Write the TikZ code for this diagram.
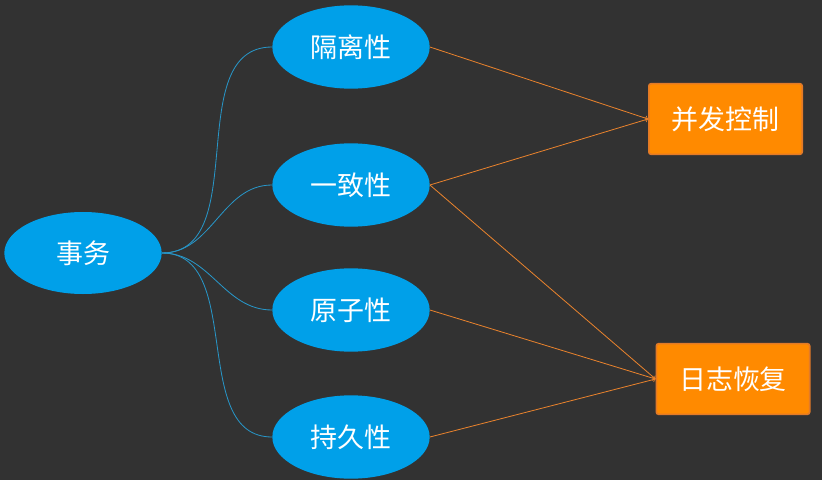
\documentclass[tikz,border=0pt]{standalone}
\usepackage{fontspec}
\usetikzlibrary{shapes.geometric}
\newfontfamily\cjk{Noto Sans CJK SC}
\definecolor{bgdark}{RGB}{50,50,50}
\definecolor{propblue}{RGB}{0,160,233}
\definecolor{linkblue}{RGB}{40,150,200}
\definecolor{techorange}{RGB}{255,138,0}
\definecolor{techedge}{RGB}{226,122,40}
\definecolor{arrorange}{RGB}{232,130,45}
\begin{document}
\begin{tikzpicture}[x=0.03cm, y=-0.03cm,
  prop/.style={ellipse, fill=propblue, text=white, minimum width=4.72cm, minimum height=2.5cm, font=\cjk\fontsize{23}{26}\selectfont},
  tech/.style={draw=techedge, line width=1.4pt, fill=techorange, rounded corners=2pt, text=white, minimum width=4.6cm, minimum height=2.12cm, font=\cjk\fontsize{23}{26}\selectfont},
  link/.style={linkblue, line width=0.7pt},
  uses/.style={->, arrorange, line width=0.7pt}]
  \fill[bgdark] (0,0) rectangle (822,480);
  \useasboundingbox (0,0) rectangle (822,480);
  \node[prop, minimum height=2.46cm] (tx) at (83,253) {事务};
  \node[prop] (iso) at (351,47) {隔离性};
  \node[prop] (con) at (351,185) {一致性};
  \node[prop] (ato) at (351,310) {原子性};
  \node[prop] (dur) at (351,437) {持久性};
  \node[tech] (cc) at (725.5,119) {并发控制};
  \node[tech] (log) at (733,379) {日志恢复};
  % ACID properties
  \foreach \p in {iso, con, ato, dur}
    \draw[link] (tx.east) to[out=0, in=180] (\p.west);
  % implementation techniques
  \draw[uses] (iso.east) -- (cc.west);
  \draw[uses] (con.east) -- (cc.west);
  \draw[uses] (con.east) -- (log.west);
  \draw[uses] (ato.east) -- (log.west);
  \draw[uses] (dur.east) -- (log.west);
\end{tikzpicture}
\end{document}
